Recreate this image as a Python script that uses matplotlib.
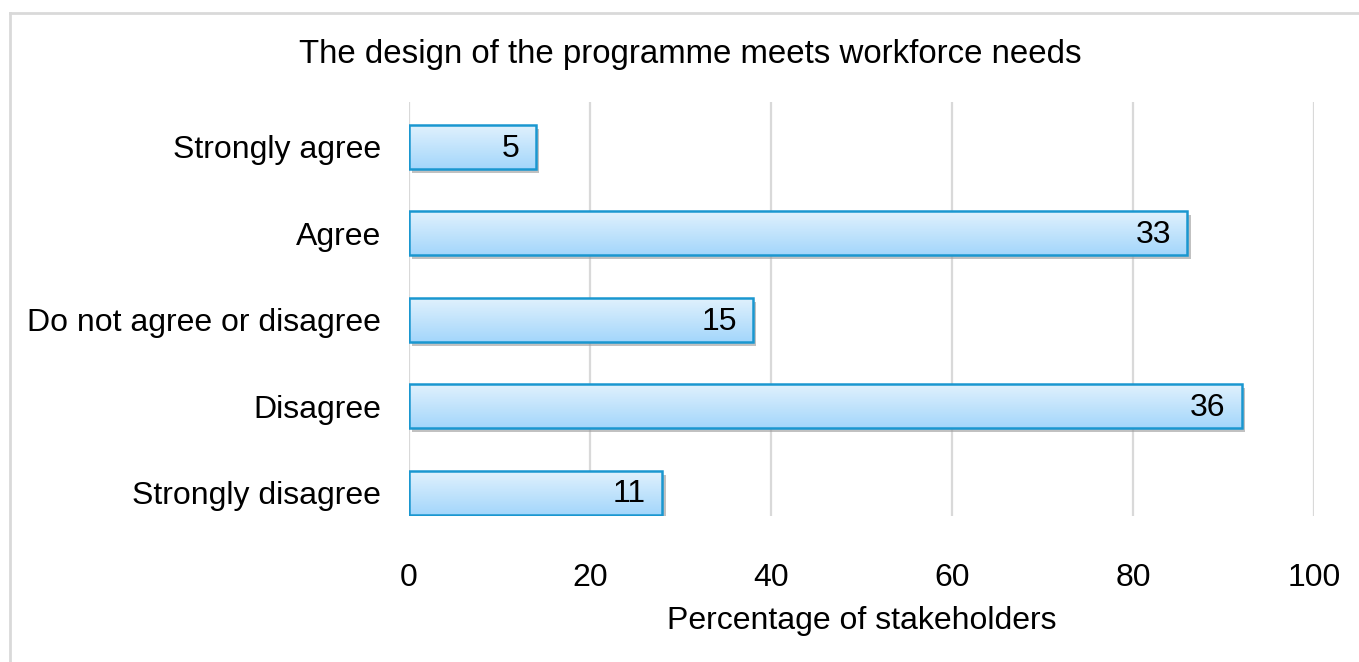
import matplotlib
matplotlib.use("Agg")
import matplotlib.pyplot as plt
import numpy as np
from matplotlib.patches import Rectangle
from matplotlib.lines import Line2D

plt.rcParams['font.family'] = ['Liberation Sans', 'DejaVu Sans']

# data
categories = ['Strongly agree', 'Agree', 'Do not agree or disagree',
              'Disagree', 'Strongly disagree']
percentages = [14, 86, 38, 92, 28]
counts = [5, 33, 15, 36, 11]

FS = 23

fig = plt.figure(figsize=(13.59, 6.62), dpi=100)
ax = fig.add_axes([0.301, 0.2205, 0.666, 0.6255])

# gradient for bar fill
grad = np.linspace(0, 1, 256).reshape(-1, 1)
cmap = matplotlib.colors.LinearSegmentedColormap.from_list(
    'barfill', ['#e2f2fd', '#a3d6fb'])

y = np.arange(len(categories))
bar_h = 0.51
for yi, val, cnt in zip(y, percentages, counts):
    # shadow
    sh = Rectangle((0.35, yi - bar_h / 2 + 0.045), val, bar_h,
                   facecolor='#a0a0a0', edgecolor='none', alpha=0.65, zorder=2)
    ax.add_patch(sh)
    rect = Rectangle((0, yi - bar_h / 2), val, bar_h,
                     facecolor='none', edgecolor='#1a97d0', linewidth=1.8, zorder=4)
    ax.add_patch(rect)
    im = ax.imshow(grad, cmap=cmap, aspect='auto', zorder=3,
                   extent=(0, val, yi + bar_h / 2, yi - bar_h / 2))
    im.set_clip_path(rect)
    ax.text(val - 1.8, yi + 0.02, str(cnt), ha='right', va='center',
            fontsize=FS, color='black', zorder=5)

ax.set_xlim(0, 100)
ax.set_ylim(4.27, -0.52)
ax.set_xticks([0, 20, 40, 60, 80, 100])
ax.set_yticks(y)
ax.set_yticklabels(categories)
ax.tick_params(axis='both', length=0, labelsize=FS, colors='black')
ax.tick_params(axis='x', pad=34)
ax.tick_params(axis='y', pad=20)
ax.xaxis.grid(True, color='#d9d9d9', linewidth=1.6)
ax.set_axisbelow(True)
for s in ax.spines.values():
    s.set_visible(False)
ax.set_xlabel('Percentage of stakeholders', fontsize=FS, labelpad=9)

fig.text(0.508, 0.918, 'The design of the programme meets workforce needs',
         ha='center', va='center', fontsize=23.8)

# light border at left and top
fig.add_artist(Line2D([0.0070, 0.0070], [0, 0.980], color='#d9d9d9',
                      linewidth=2, transform=fig.transFigure))
fig.add_artist(Line2D([0.0070, 1.0], [0.980, 0.980], color='#d9d9d9',
                      linewidth=2, transform=fig.transFigure))

fig.savefig('out.png', dpi=100)
